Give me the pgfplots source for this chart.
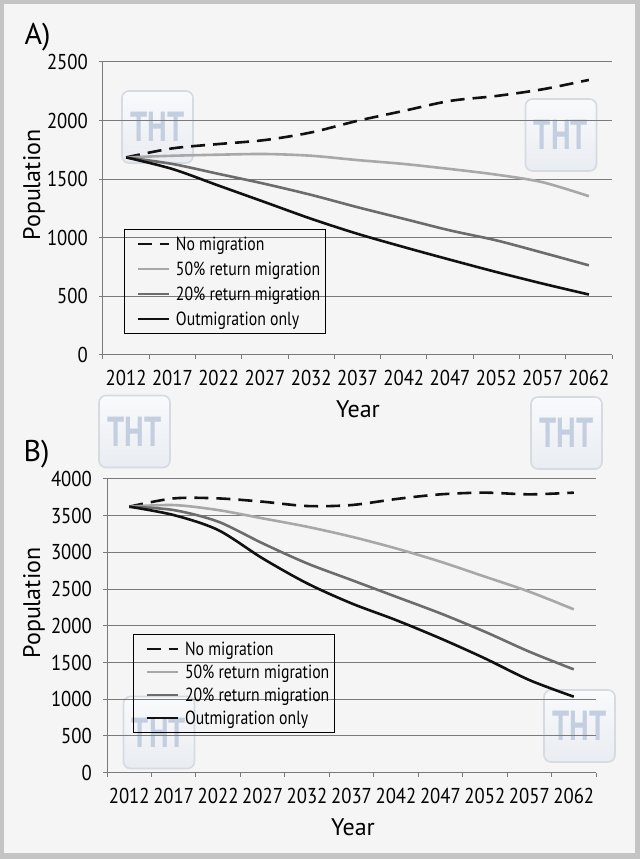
\documentclass[border=0pt]{standalone}
\usepackage{pgfplots}
\pgfplotsset{compat=1.18}
\usepackage{fontspec}
\setmainfont{PT Sans}
\newfontfamily\condfont[FakeStretch=0.87]{PT Sans}
\newfontfamily\legcond[FakeStretch=0.83]{PT Sans}
\newfontfamily\logofont[FakeStretch=0.72]{PT Sans}
\newcommand\tickfont{\condfont\fontsize{21.5}{23}\selectfont}
\newcommand\legfont{\legcond\fontsize{19}{20}\selectfont}
\newcommand\labfont{\fontsize{24}{26}\selectfont}

\definecolor{framec}{HTML}{C4C4C4}
\definecolor{bgc}{HTML}{F5F5F5}
\definecolor{gridc}{HTML}{7A7A7A}
\definecolor{lightg}{HTML}{A8A8A8}
\definecolor{midg}{HTML}{6C6C6C}
\definecolor{darkl}{HTML}{111111}
\definecolor{logoc}{HTML}{C3CFE0}
\definecolor{logofill}{HTML}{F9FAFC}
\definecolor{logobot}{HTML}{E9ECF1}
\definecolor{logodraw}{HTML}{D6DAE1}

\pgfplotsset{mystyle/.style={
  scale only axis, anchor=south west,
  xmin=-0.5, xmax=10.5,
  axis lines=left, axis line style={-, gridc, line width=1pt},
  xtick={-0.5,0.5,...,10.5}, xticklabels={},
  extra x ticks={0,1,...,10},
  extra x tick labels={2012,2017,2022,2027,2032,2037,2042,2047,2052,2057,2062},
  extra x tick style={tick style={draw=none}, grid=none},
  tick align=outside, major tick length=4pt,
  tick style={gridc, line width=1pt},
  ymajorgrids, grid style={gridc, line width=1pt},
  ticklabel style={font=\tickfont, text=black},
  x tick label style={anchor=center, yshift=-19pt},
  y tick label style={anchor=east, inner sep=0pt, xshift=-11pt},
  every axis plot/.append style={line width=2.6pt, smooth},
  legend cell align=left,
  legend style={draw=black, line width=1pt, fill=none, font=\legfont,
    anchor=north west, inner xsep=3pt, inner ysep=5pt,
    /tikz/every odd column/.append style={column sep=4pt}},
  legend image code/.code={\path (0pt,0pt); \draw[#1, line width=2.6pt] (9pt,0pt) -- (40pt,0pt);},
}}

\newcommand\logo[1]{\node[draw=logodraw, line width=1.6pt, top color=logofill, bottom color=logobot, rounded corners=7pt,
  minimum width=71pt, minimum height=72pt, text=logoc,
  font=\logofont\bfseries\fontsize{42}{42}\selectfont] at #1 {THT};}

\begin{document}
\begin{tikzpicture}[x=1pt,y=1pt]
\useasboundingbox (0,0) rectangle (640,859);
\fill[framec] (0,0) rectangle (640,859);
\fill[bgc] (3.5,6) rectangle (635,855);

% watermarks (behind everything)
\logo{(157.5,732)}
\logo{(561,724)}
\logo{(134.5,427.5)}
\logo{(566.5,426)}
\logo{(159,126.5)}
\logo{(579.5,133)}

% Panel A
\begin{axis}[mystyle, at={(103pt,504pt)}, width=509pt, height=293pt,
  ymin=0, ymax=2500, ytick={0,500,1000,1500,2000,2500},
  yticklabels={0,500,1000,1500,2000,2500},
  legend style={at={(0.041,0.43)}, /tikz/row sep=6pt}]
\addplot[darkl, dash pattern=on 14pt off 8pt] coordinates {(0,1686)(1,1763)(2,1800)(3,1834)(4,1899)(5,1998)(6,2083)(7,2168)(8,2210)(9,2267)(10,2347)};
\addlegendentry{No migration}
\addplot[lightg] coordinates {(0,1686)(1,1700)(2,1709)(3,1715)(4,1700)(5,1663)(6,1630)(7,1587)(8,1539)(9,1474)(10,1355)};
\addlegendentry{50\% return migration}
\addplot[midg] coordinates {(0,1686)(1,1630)(2,1545)(3,1460)(4,1366)(5,1261)(6,1162)(7,1063)(8,978)(9,873)(10,765)};
\addlegendentry{20\% return migration}
\addplot[darkl] coordinates {(0,1686)(1,1587)(2,1445)(3,1304)(4,1162)(5,1034)(6,921)(7,813)(8,708)(9,609)(10,516)};
\addlegendentry{Outmigration only}
\end{axis}

% Panel B
\begin{axis}[mystyle, at={(107pt,86.3pt)}, width=489pt, height=293.7pt,
  ymin=0, ymax=4000, ytick={0,500,...,4000},
  yticklabels={0,500,1000,1500,2000,2500,3000,3500,4000},
  legend style={at={(0.053,0.472)}, /tikz/row sep=4pt}]
\addplot[darkl, dash pattern=on 14pt off 8pt] coordinates {(0,3623)(1,3736)(2,3736)(3,3691)(4,3632)(5,3645)(6,3727)(7,3791)(8,3814)(9,3791)(10,3814)};
\addlegendentry{No migration}
\addplot[lightg] coordinates {(0,3623)(1,3645)(2,3577)(3,3464)(4,3350)(5,3214)(6,3055)(7,2874)(8,2670)(9,2465)(10,2225)};
\addlegendentry{50\% return migration}
\addplot[midg] coordinates {(0,3623)(1,3577)(2,3419)(3,3124)(4,2851)(5,2624)(6,2397)(7,2170)(8,1920)(9,1648)(10,1407)};
\addlegendentry{20\% return migration}
\addplot[darkl] coordinates {(0,3623)(1,3509)(2,3305)(3,2919)(4,2579)(5,2306)(6,2079)(7,1829)(8,1557)(9,1262)(10,1035)};
\addlegendentry{Outmigration only}
\end{axis}

% labels
\node[font=\fontsize{30}{32}\selectfont] at (37.5,822) {A)};
\node[font=\fontsize{30}{32}\selectfont] at (36.5,405) {B)};
\node[font=\labfont, rotate=90] at (34,674) {Population};
\node[font=\labfont, rotate=90] at (34,256) {Population};
\node[font=\labfont] at (358,450) {Year};
\node[font=\labfont] at (353,32) {Year};
\end{tikzpicture}
\end{document}
